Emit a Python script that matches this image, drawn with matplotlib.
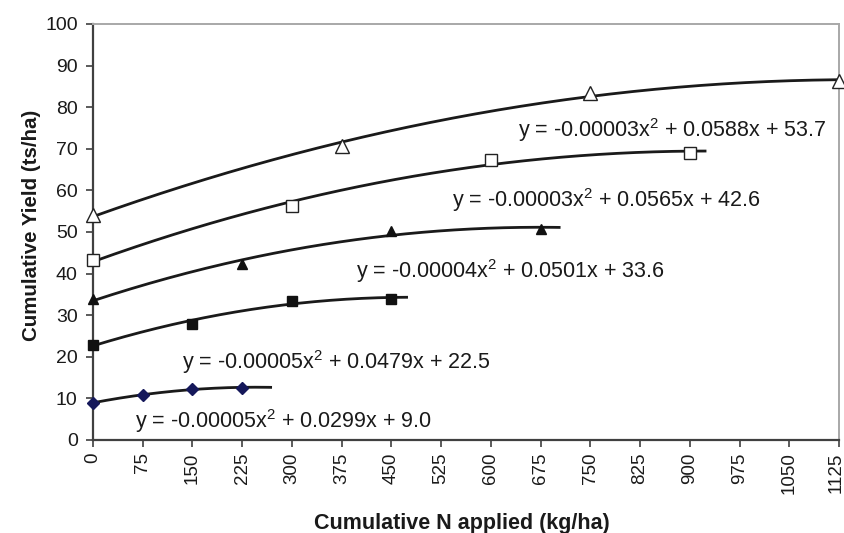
import numpy as np
import matplotlib
matplotlib.use("Agg")
import matplotlib.pyplot as plt
import matplotlib.transforms as mtransforms

plt.rcParams['font.family'] = ['Liberation Sans', 'DejaVu Sans']
plt.rcParams['mathtext.fontset'] = 'custom'
plt.rcParams['mathtext.rm'] = 'Liberation Sans'
plt.rcParams['mathtext.it'] = 'Liberation Sans'

# Cumulative N applied (kg/ha) and cumulative yield (ts/ha) per series
n1 = [0, 75, 150, 225]
y1 = [9.0, 10.7, 12.3, 12.6]
n2 = [0, 150, 300, 450]
y2 = [22.9, 28.0, 33.5, 34.0]
n3 = [0, 225, 450, 675]
y3 = [33.8, 42.3, 50.2, 50.8]
n4 = [0, 300, 600, 900]
y4 = [43.2, 56.3, 67.2, 69.1]
n5 = [0, 375, 750, 1125]
y5 = [54.0, 70.7, 83.5, 86.3]

# trendline extents (forward projection)
trend_end = [270, 475, 705, 925, 1125]

equations = [
    "y = -0.00005x$^{2}$ + 0.0299x + 9.0",
    "y = -0.00005x$^{2}$ + 0.0479x + 22.5",
    "y = -0.00004x$^{2}$ + 0.0501x + 33.6",
    "y = -0.00003x$^{2}$ + 0.0565x + 42.6",
    "y = -0.00003x$^{2}$ + 0.0588x + 53.7",
]
eq_pos = [(63, 4.6), (134, 18.8), (397, 40.5), (541, 57.7), (641, 74.5)]

x_ticks = list(range(0, 1126, 75))
y_ticks = list(range(0, 101, 10))

styles = [
    dict(marker='D', mfc='#15185a', mec='#15185a', ms=6),
    dict(marker='s', mfc='#111111', mec='#111111', ms=6.5),
    dict(marker='^', mfc='#111111', mec='#111111', ms=7.5),
    dict(marker='s', mfc='white', mec='#222222', ms=8, mew=1.0),
    dict(marker='^', mfc='white', mec='#222222', ms=9.5, mew=1.0),
]

fig = plt.figure(figsize=(8.45, 5.33), dpi=100)
ax = fig.add_axes([0.110, 0.1745, 0.883, 0.7805])

series = [(n1, y1), (n2, y2), (n3, y3), (n4, y4), (n5, y5)]
for (xs, ys), st, xe, eq, (tx, ty) in zip(series, styles, trend_end, equations, eq_pos):
    coef = np.polyfit(xs, ys, 2)
    xx = np.linspace(0, xe, 200)
    ax.plot(xx, np.polyval(coef, xx), color='#1a1a1a', lw=2.0, zorder=2,
            solid_capstyle='butt', clip_on=False)
    ax.plot(xs, ys, linestyle='none', zorder=3, clip_on=False, **st)
    ax.text(tx, ty, eq, fontsize=15.5, va='center', ha='left', color='#1a1a1a')

ax.set_xlim(0, 1125)
ax.set_ylim(0, 100)
ax.set_xticks(x_ticks)
ax.set_xticklabels([str(v) for v in x_ticks], rotation=90, fontsize=13.5)
ax.set_yticks(y_ticks)
ax.set_yticklabels([str(v) for v in y_ticks], fontsize=14)
ax.tick_params(axis='both', direction='out', length=5, width=1.2,
               color='#404040', labelcolor='#1a1a1a')
ax.tick_params(axis='x', pad=4)
ax.tick_params(axis='y', pad=6)

# keep the last tick label inside the figure edge
last = ax.get_xticklabels()[-1]
last.set_transform(last.get_transform() +
                   mtransforms.ScaledTranslation(-3 / 100, 0, fig.dpi_scale_trans))

for side in ('left', 'bottom'):
    ax.spines[side].set_color('#404040')
    ax.spines[side].set_linewidth(1.6)
for side in ('top', 'right'):
    ax.spines[side].set_color('#a8a8a8')
    ax.spines[side].set_linewidth(1.4)

ax.set_xlabel('Cumulative N applied (kg/ha)', fontsize=15.5, fontweight='bold',
              color='#1a1a1a')
ax.set_ylabel('Cumulative Yield (ts/ha)', fontsize=14.8, fontweight='bold',
              color='#1a1a1a')
ax.xaxis.set_label_coords(0.495, -0.175)
ax.yaxis.set_label_coords(-0.070, 0.517)

fig.savefig('out.png', dpi=100)
